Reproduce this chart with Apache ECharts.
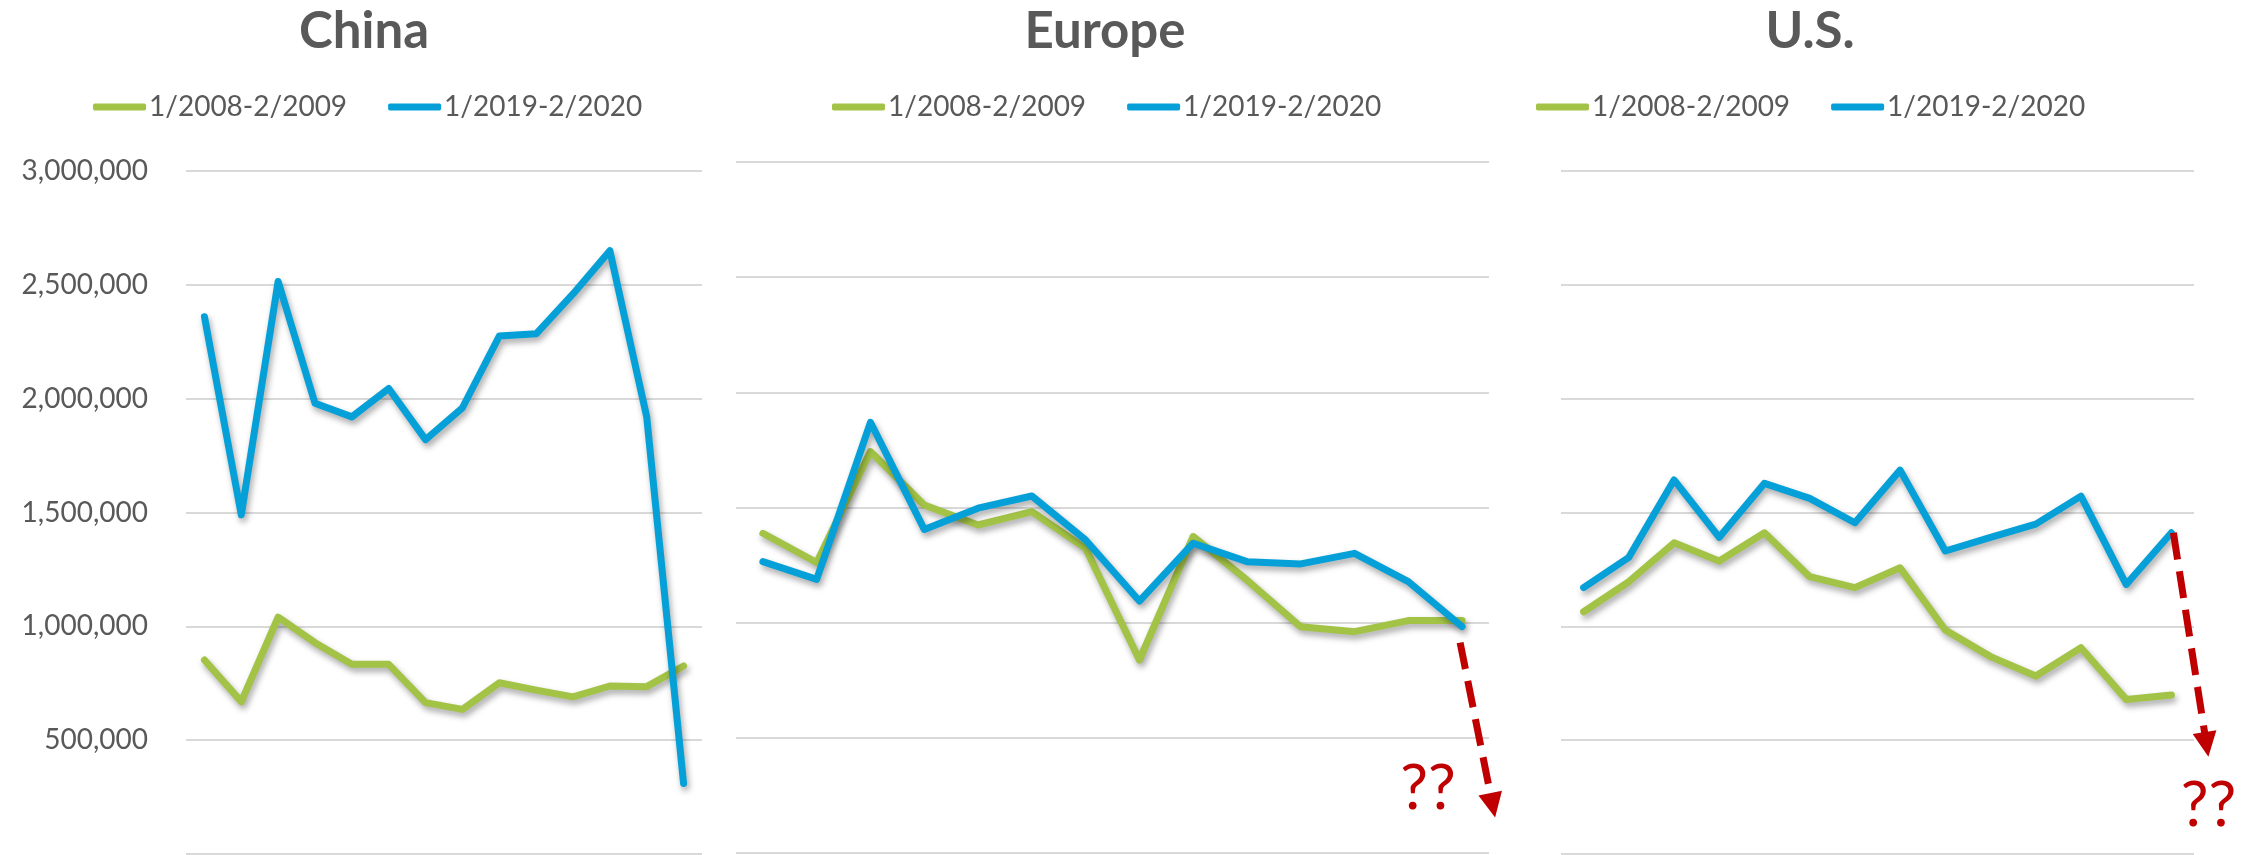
<!DOCTYPE html>
<html>
<head>
<meta charset="utf-8">
<script src="https://cdn.jsdelivr.net/npm/echarts@6/dist/echarts.min.js"></script>
<style>
html,body{margin:0;padding:0;background:#fff;}
#main{width:2260px;height:855px;}
</style>
</head>
<body>
<div id="main"></div>
<script>
// ---- data ----
const months = ['Jan','Feb','Mar','Apr','May','Jun','Jul','Aug','Sep','Oct','Nov','Dec','Jan','Feb'];
const seriesNames = ['1/2008-2/2009', '1/2019-2/2020'];
const panelTitles = ['China', 'Europe', 'U.S.'];
const yTicks = [0, 500000, 1000000, 1500000, 2000000, 2500000, 3000000];

const chinaGreen  = [852000, 669000, 1040000, 928000, 833000, 833000, 665000, 635000, 752000, 720000, 690000, 738000, 735000, 826000];
const chinaBlue   = [2360000, 1490000, 2515000, 1980000, 1920000, 2045000, 1820000, 1960000, 2275000, 2285000, 2460000, 2650000, 1920000, 310000];
const europeGreen = [1388000, 1261000, 1743000, 1511000, 1424000, 1482000, 1323000, 838000, 1374000, 1185000, 982000, 961000, 1009000, 1009000];
const europeBlue  = [1265000, 1188000, 1870000, 1405000, 1497000, 1550000, 1359000, 1094000, 1345000, 1265000, 1255000, 1301000, 1178000, 983000];
const usGreen     = [1064000, 1196000, 1367000, 1287000, 1411000, 1218000, 1170000, 1257000, 984000, 867000, 782000, 906000, 679000, 698000];
const usBlue      = [1170000, 1303000, 1643000, 1391000, 1628000, 1562000, 1455000, 1686000, 1331000, 1391000, 1449000, 1572000, 1184000, 1411000];
const annotationText = '??';

// ---- styling ----
const GREEN = '#A3C346';
const BLUE = '#05A0D8';
const TEXT = '#595959';
const RED = '#C00000';
const FONT = 'Lato, "Open Sans", sans-serif';

const grids = [
  {left: 186, top: 171, width: 516, height: 683},
  {left: 736, top: 162, width: 753, height: 691},
  {left: 1561, top: 171, width: 633, height: 683}
];
const titleCenters = [364, 1105, 1810];
const legendLefts = [93, 832, 1536];
const panelData = [[chinaGreen, chinaBlue], [europeGreen, europeBlue], [usGreen, usBlue]];

const chart = echarts.init(document.getElementById('main'), null, {renderer: 'canvas'});

const yMax = yTicks[yTicks.length - 1];
const yInterval = yTicks[1] - yTicks[0];

const option = {
  backgroundColor: '#ffffff',
  animation: false,
  title: panelTitles.map((t, i) => ({
    text: t,
    left: titleCenters[i],
    top: 1,
    textAlign: 'center',
    padding: 0,
    textStyle: {fontFamily: FONT, fontWeight: 'bold', fontSize: 51, color: TEXT, lineHeight: 62}
  })),
  legend: legendLefts.map((l, i) => ({
    left: l,
    top: 93,
    padding: 0,
    itemGap: 41,
    itemWidth: 53,
    itemHeight: 7,
    icon: 'roundRect',
    data: seriesNames.map((n, k) => ({name: n, itemStyle: {color: k === 0 ? GREEN : BLUE}})),
    textStyle: {fontFamily: FONT, fontSize: 28, color: TEXT, padding: [0, 0, 0, -2]},
    selectedMode: false
  })),
  grid: grids.map(g => Object.assign({containLabel: false}, g)),
  xAxis: grids.map((g, i) => ({
    type: 'category',
    gridIndex: i,
    data: months,
    boundaryGap: true,
    axisLine: {show: false},
    axisTick: {show: false},
    axisLabel: {show: false},
    splitLine: {show: false}
  })),
  yAxis: grids.map((g, i) => ({
    type: 'value',
    gridIndex: i,
    min: 0,
    max: yMax,
    interval: yInterval,
    axisLine: {show: false},
    axisTick: {show: false},
    axisLabel: {
      show: i === 0,
      showMinLabel: false,
      margin: 38,
      fontFamily: FONT,
      fontSize: 28,
      color: TEXT,
      formatter: v => v.toLocaleString('en-US')
    },
    splitLine: {show: true, lineStyle: {color: '#D9D9D9', width: 2}}
  })),
  series: []
};

panelData.forEach((pair, i) => {
  pair.forEach((vals, k) => {
    option.series.push({
      type: 'line',
      name: seriesNames[k],
      xAxisIndex: i,
      yAxisIndex: i,
      data: vals,
      symbol: 'none',
      smooth: false,
      z: 2 + k,
      color: k === 0 ? GREEN : BLUE,
      lineStyle: {
        width: 7,
        color: k === 0 ? GREEN : BLUE,
        cap: 'round',
        join: 'round',
        shadowColor: 'rgba(0,0,0,0.35)',
        shadowBlur: 6,
        shadowOffsetX: 2,
        shadowOffsetY: 4
      }
    });
  });
});

chart.setOption(option);

// ---- annotation arrows anchored to the last blue point of Europe and U.S. ----
function arrowGraphics(panel, startOff, tipOff, textOff) {
  const vals = panelData[panel][1];
  const last = vals.length - 1;
  const p = chart.convertToPixel({gridIndex: panel}, [last, vals[last]]);
  const S = [p[0] + startOff[0], p[1] + startOff[1]];
  const T = [p[0] + tipOff[0], p[1] + tipOff[1]];
  const dx = T[0] - S[0], dy = T[1] - S[1];
  const len = Math.sqrt(dx * dx + dy * dy);
  const ux = dx / len, uy = dy / len;
  const headLen = 25, headHalf = 12;
  const B = [T[0] - ux * headLen, T[1] - uy * headLen];
  const nx = -uy, ny = ux;
  return [
    {
      type: 'line', z: 100,
      shape: {x1: S[0], y1: S[1], x2: B[0] + ux * 2, y2: B[1] + uy * 2},
      style: {stroke: RED, lineWidth: 7, lineDash: [27, 12]}
    },
    {
      type: 'polygon', z: 100,
      shape: {points: [[B[0] + nx * headHalf, B[1] + ny * headHalf], [T[0], T[1]], [B[0] - nx * headHalf, B[1] - ny * headHalf]]},
      style: {fill: RED}
    },
    {
      type: 'text', z: 100,
      x: T[0] + textOff[0], y: T[1] + textOff[1],
      style: {text: annotationText, fill: RED, font: '62px ' + FONT, textAlign: 'center', textVerticalAlign: 'middle'}
    }
  ];
}

chart.setOption({
  graphic: [].concat(
    arrowGraphics(1, [-2, 16], [33, 191], [-67, -29]),
    arrowGraphics(2, [2, 0], [37, 224], [0, 49])
  )
});
</script>
</body>
</html>
